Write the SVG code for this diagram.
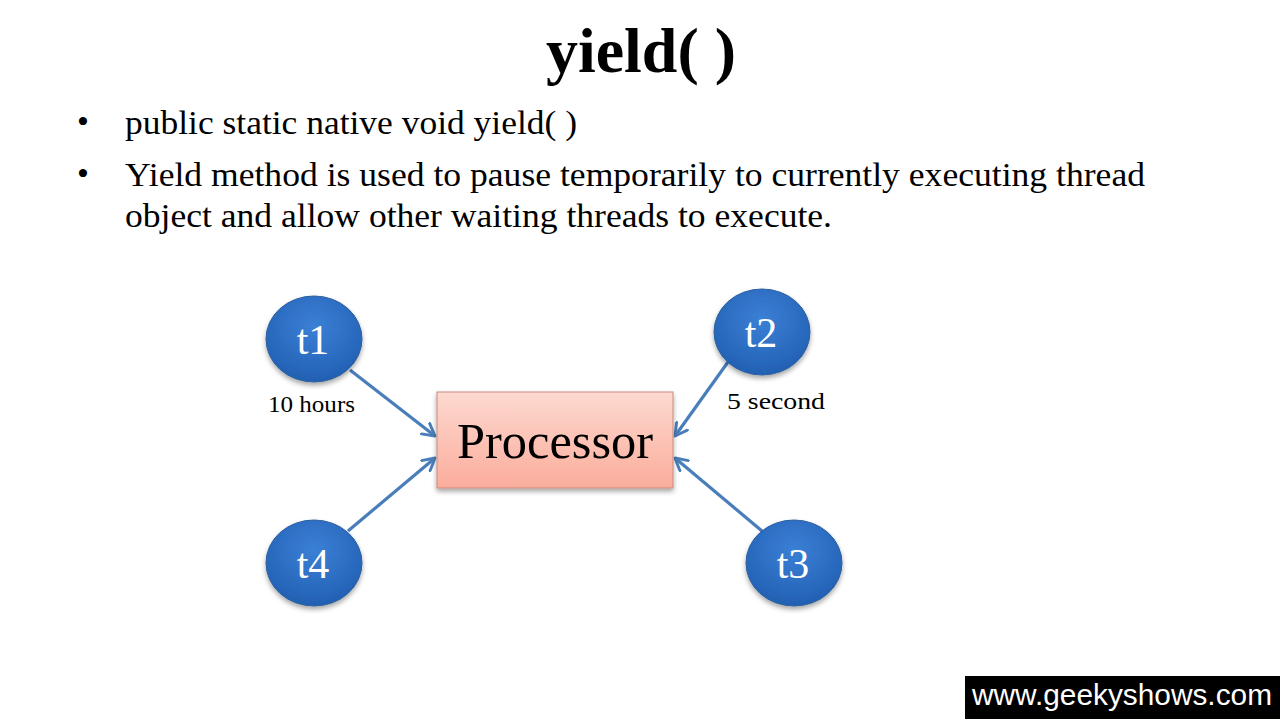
<svg xmlns="http://www.w3.org/2000/svg" width="1280" height="719" viewBox="0 0 1280 719">
<style>
.serif{font-family:"Liberation Serif","Times New Roman",serif;fill:#000}
.node text{font-family:"Liberation Serif","Times New Roman",serif;fill:#fff;font-size:42px;text-anchor:middle}
.node ellipse{fill:url(#blue);stroke:#2c5f9e;stroke-width:1}
.conn line{stroke:#4a7ebb;stroke-width:3.2;fill:none}
</style>
<defs>
<radialGradient id="blue" cx="50%" cy="35%" r="65%">
<stop offset="0" stop-color="#3b80d6"/>
<stop offset="1" stop-color="#2260b3"/>
</radialGradient>
<linearGradient id="pink" x1="0" y1="0" x2="0" y2="1">
<stop offset="0" stop-color="#fdd9d0"/>
<stop offset="1" stop-color="#fbad9c"/>
</linearGradient>
<filter id="sh" x="-20%" y="-20%" width="140%" height="150%">
<feDropShadow dx="0" dy="3" stdDeviation="2.5" flood-color="#000" flood-opacity="0.35"/>
</filter>
<marker id="arr" viewBox="0 0 12 12" refX="10" refY="6" markerWidth="5" markerHeight="5" orient="auto" markerUnits="strokeWidth">
<path d="M1,1 L10,6 L1,11" fill="none" stroke="#4a7ebb" stroke-width="2.2" stroke-linecap="round" stroke-linejoin="round"/>
</marker>
</defs>
<rect width="1280" height="719" fill="#fff"/>
<text class="serif" x="546" y="72" font-size="63" font-weight="bold" textLength="190" lengthAdjust="spacingAndGlyphs">yield( )</text>
<g id="bullets" class="serif" font-size="34">
<text x="77" y="133">•</text>
<text x="125" y="134" textLength="452" lengthAdjust="spacingAndGlyphs">public static native void yield( )</text>
<text x="77" y="185">•</text>
<text x="125" y="186" textLength="1020" lengthAdjust="spacingAndGlyphs">Yield method is used to pause temporarily to currently executing thread</text>
<text x="125" y="227" textLength="707" lengthAdjust="spacingAndGlyphs">object and allow other waiting threads to execute.</text>
</g>
<g id="connectors" class="conn">
<line x1="350" y1="370" x2="435" y2="436" marker-end="url(#arr)"/>
<line x1="728" y1="362" x2="675" y2="436" marker-end="url(#arr)"/>
<line x1="348" y1="531" x2="435" y2="458" marker-end="url(#arr)"/>
<line x1="762" y1="531" x2="675" y2="458" marker-end="url(#arr)"/>
</g>
<g id="processor">
<rect x="437" y="392" width="236" height="96" fill="url(#pink)" stroke="#c98a7c" stroke-width="1" filter="url(#sh)"/>
<text class="serif" x="457" y="458" font-size="50" textLength="196" lengthAdjust="spacingAndGlyphs">Processor</text>
</g>
<g id="t1" class="node"><ellipse cx="314" cy="339" rx="48" ry="43" filter="url(#sh)"/><text x="313" y="354">t1</text></g>
<g id="t2" class="node"><ellipse cx="762" cy="332" rx="48" ry="43" filter="url(#sh)"/><text x="761" y="347">t2</text></g>
<g id="t3" class="node"><ellipse cx="794" cy="563" rx="48" ry="43" filter="url(#sh)"/><text x="793" y="578">t3</text></g>
<g id="t4" class="node"><ellipse cx="314" cy="563" rx="48" ry="43" filter="url(#sh)"/><text x="313" y="578">t4</text></g>
<g id="labels" class="serif" font-size="24">
<text x="268" y="412" textLength="87" lengthAdjust="spacingAndGlyphs">10 hours</text>
<text x="727" y="409" textLength="98" lengthAdjust="spacingAndGlyphs">5 second</text>
</g>
<g id="watermark">
<rect x="965" y="676" width="315" height="43" fill="#000"/>
<text x="972" y="705" font-family="Liberation Sans, Arial, sans-serif" font-size="30" fill="#fff" textLength="300" lengthAdjust="spacingAndGlyphs">www.geekyshows.com</text>
</g>
</svg>
